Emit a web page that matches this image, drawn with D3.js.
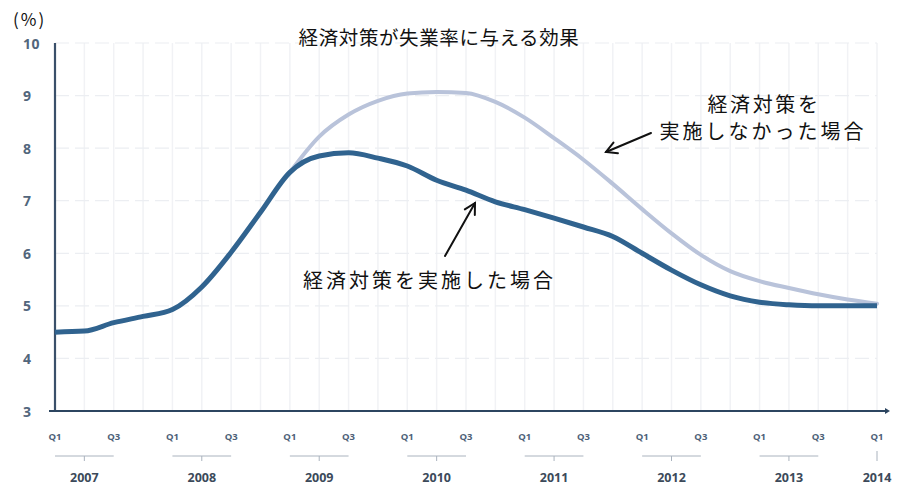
<!DOCTYPE html>
<html>
<head>
<meta charset="utf-8">
<script src="https://cdn.jsdelivr.net/npm/d3@7/dist/d3.min.js"></script>
<style>
  html, body { margin: 0; padding: 0; background: #ffffff; }
  svg { display: block; }
</style>
</head>
<body>
<svg id="chart" width="913" height="488"></svg>
<script>
// Quarterly unemployment rate (%), 2007 Q1 through 2014 Q1
const years = ["2007", "2008", "2009", "2010", "2011", "2012", "2013", "2014"];
const quarterLabels = ["Q1", "Q3"];
const yTicks = [3, 4, 5, 6, 7, 8, 9, 10];

// With the stimulus (every quarter from 2007 Q1)
const withPolicy = [
  4.50, 4.52, 4.68, 4.80, 4.93, 5.36, 6.02, 6.78, 7.54,
  7.85, 7.91, 7.81, 7.66, 7.39, 7.20, 6.98, 6.83, 6.67,
  6.50, 6.32, 6.00, 5.68, 5.40, 5.19, 5.07, 5.02, 5.00,
  5.00, 5.00
];
// Without the stimulus (branches off in 2009 Q1)
const withoutStart = 8;
const withoutPolicy = [
  7.54, 8.22, 8.64, 8.90, 9.04, 9.07, 9.05, 8.88, 8.58,
  8.19, 7.78, 7.32, 6.84, 6.38, 5.97, 5.66, 5.47, 5.34,
  5.22, 5.12, 5.04
];

const title = "経済対策が失業率に与える効果";
const labelWith = "経済対策を実施した場合";
const labelWithout = ["経済対策を", "実施しなかった場合"];

const svg = d3.select("#chart");
const x = d3.scaleLinear().domain([0, 28]).range([55, 877]);
const y = d3.scaleLinear().domain([3, 10]).range([411, 43]);

const jp = "'Noto Sans CJK JP', 'Noto Sans', sans-serif";
const num = "'Open Sans', 'Lato', sans-serif";

// faint grid
const grid = svg.append("g");
grid.selectAll("line.v").data(d3.range(1, 29)).join("line")
  .attr("x1", d => x(d)).attr("x2", d => x(d))
  .attr("y1", y(10)).attr("y2", y(3))
  .attr("stroke", "#f1f2f5").attr("stroke-width", 1.5);
grid.selectAll("line.h").data(yTicks.slice(1)).join("line")
  .attr("x1", x(0)).attr("x2", x(28))
  .attr("y1", d => y(d)).attr("y2", d => y(d))
  .attr("stroke", "#eceef2").attr("stroke-width", 1.2)
  .attr("stroke-dasharray", "14 6");

// y tick labels
svg.append("g").selectAll("text").data(yTicks).join("text")
  .attr("x", 23).attr("y", d => y(d))
  .attr("dominant-baseline", "central")
  .attr("font-family", num).attr("font-weight", 700).attr("font-size", 14)
  .attr("letter-spacing", 0.5)
  .attr("fill", "#52667c")
  .text(d => d);

// axes
svg.append("line")
  .attr("x1", x(0)).attr("x2", x(0)).attr("y1", y(10)).attr("y2", y(3))
  .attr("stroke", "#3a506a").attr("stroke-width", 2.2);
svg.append("line")
  .attr("x1", x(0) - 6).attr("x2", 885).attr("y1", y(3)).attr("y2", y(3))
  .attr("stroke", "#2c4560").attr("stroke-width", 2.2);
svg.append("path")
  .attr("d", `M${885},${y(3) - 3}L${890},${y(3)}L${885},${y(3) + 3}Z`)
  .attr("fill", "#2c4560");

// x labels: Q1 / Q3 under the axis
const qTicks = d3.range(0, 29, 2);
svg.append("g").selectAll("text").data(qTicks).join("text")
  .attr("x", d => x(d)).attr("y", 436)
  .attr("text-anchor", "middle").attr("dominant-baseline", "central")
  .attr("font-family", num).attr("font-weight", 700).attr("font-size", 9.5)
  .attr("fill", "#4d6178")
  .text(d => quarterLabels[(d / 2) % 2]);

// year brackets
const last = years.length - 1;
const yearG = svg.append("g").selectAll("g").data(years).join("g");
yearG.filter((d, i) => i < last).append("line")
  .attr("x1", (d, i) => x(i * 4)).attr("x2", (d, i) => x(i * 4 + 2))
  .attr("y1", 456).attr("y2", 456)
  .attr("stroke", "#aab3be").attr("stroke-width", 1);
yearG.append("line")
  .attr("x1", (d, i) => x(i * 4 + (i < last ? 1 : 0)))
  .attr("x2", (d, i) => x(i * 4 + (i < last ? 1 : 0)))
  .attr("y1", (d, i) => i < last ? 456 : 451).attr("y2", 461)
  .attr("stroke", "#aab3be").attr("stroke-width", 1);
yearG.append("text")
  .attr("x", (d, i) => x(i * 4 + (i < last ? 1 : 0)))
  .attr("y", 477)
  .attr("text-anchor", "middle").attr("dominant-baseline", "central")
  .attr("font-family", num).attr("font-weight", 700).attr("font-size", 12.5)
  .attr("fill", "#3c4a5a")
  .text(d => d);

// series lines
const line = d3.line()
  .x(d => x(d.q)).y(d => y(d.v))
  .curve(d3.curveMonotoneX);

const withoutPts = withoutPolicy.map((v, i) => ({ q: withoutStart + i, v }));
const withPts = withPolicy.map((v, i) => ({ q: i, v }));

svg.append("path").datum(withoutPts)
  .attr("d", line).attr("fill", "none")
  .attr("stroke", "#b9c3da").attr("stroke-width", 4)
  .attr("stroke-linejoin", "round").attr("stroke-linecap", "round");
svg.append("path").datum(withPts)
  .attr("d", line).attr("fill", "none")
  .attr("stroke", "#30638f").attr("stroke-width", 5)
  .attr("stroke-linejoin", "round");

// title and unit
svg.append("text")
  .attr("x", 439).attr("y", 36)
  .attr("text-anchor", "middle").attr("dominant-baseline", "central")
  .attr("font-family", jp).attr("font-size", 19.5).attr("letter-spacing", 0.6)
  .attr("fill", "#111").text(title);
svg.append("text")
  .attr("x", 13).attr("y", 18)
  .attr("dominant-baseline", "central")
  .attr("font-family", jp).attr("font-size", 17).attr("letter-spacing", 2)
  .attr("fill", "#111").text("(%)");

// annotations
function arrow(x1, y1, x2, y2) {
  const g = svg.append("g").attr("stroke", "#111").attr("stroke-width", 2)
    .attr("fill", "none").attr("stroke-linecap", "round");
  g.append("line").attr("x1", x1).attr("y1", y1).attr("x2", x2).attr("y2", y2);
  const a = Math.atan2(y2 - y1, x2 - x1);
  const len = 12, spread = 0.5;
  g.append("path").attr("d",
    `M${x2 - len * Math.cos(a - spread)},${y2 - len * Math.sin(a - spread)}` +
    `L${x2},${y2}` +
    `L${x2 - len * Math.cos(a + spread)},${y2 - len * Math.sin(a + spread)}`);
}

svg.append("text")
  .attr("x", 303).attr("y", 279)
  .attr("dominant-baseline", "central")
  .attr("font-family", jp).attr("font-size", 20).attr("letter-spacing", 3)
  .attr("fill", "#111").text(labelWith);
arrow(445, 256, 475, 203);

svg.append("text")
  .attr("x", 764).attr("y", 103)
  .attr("text-anchor", "middle").attr("dominant-baseline", "central")
  .attr("font-family", jp).attr("font-size", 20).attr("letter-spacing", 2.6)
  .attr("fill", "#111").text(labelWithout[0]);
svg.append("text")
  .attr("x", 763).attr("y", 130)
  .attr("text-anchor", "middle").attr("dominant-baseline", "central")
  .attr("font-family", jp).attr("font-size", 20).attr("letter-spacing", 3)
  .attr("fill", "#111").text(labelWithout[1]);
arrow(651, 133, 606, 152);
</script>
</body>
</html>
